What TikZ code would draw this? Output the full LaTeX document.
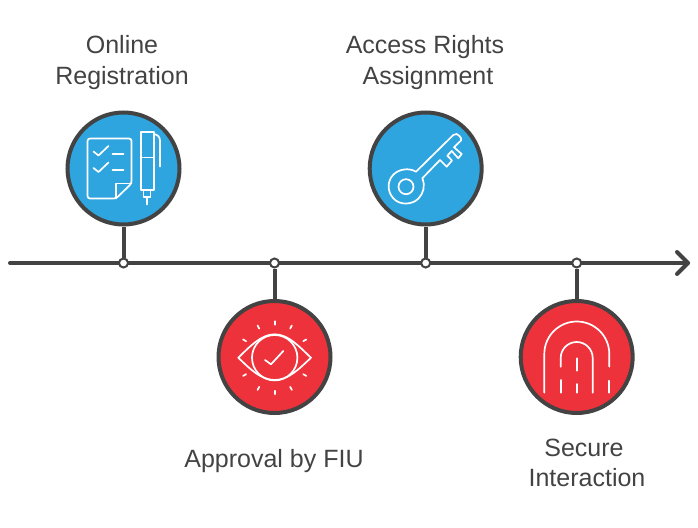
\documentclass[tikz,border=0pt]{standalone}
\usepackage{fontspec}
\usetikzlibrary{calc}
\setmainfont{Liberation Sans}
\definecolor{ink}{HTML}{434343}
\definecolor{bluefill}{HTML}{2FA5DF}
\definecolor{redfill}{HTML}{EE323B}
\tikzset{
  x=1pt,y=-1pt,
  badge/.style={circle,draw=ink,line width=4pt,minimum size=112pt,inner sep=0pt},
  junction/.style={circle,draw=ink,fill=white,line width=2pt,minimum size=9pt,inner sep=0pt},
  stem/.style={draw=ink,line width=4pt},
  axisline/.style={draw=ink,line width=4pt,line cap=round,line join=round},
  icon/.style={draw=white,line width=1.7pt,line join=round,line cap=round},
  caption/.style={text=ink,font=\fontsize{25}{30.5}\selectfont,align=center,inner sep=0pt}
}
\begin{document}
\begin{tikzpicture}
\useasboundingbox (0,0) rectangle (698,527);
\coordinate (start) at (10,263);
\coordinate (tip) at (688,263);
\coordinate (barbA) at (677,252);
\coordinate (barbB) at (677,274);
\draw[axisline] (start) -- (tip);
\draw[axisline] (barbA) -- (tip) -- (barbB);

\node[badge,fill=bluefill] (b1) at (123.5,168.5) {};
\node[badge,fill=redfill] (b2) at (274.5,357) {};
\node[badge,fill=bluefill] (b3) at (425.7,168.5) {};
\node[badge,fill=redfill] (b4) at (576.7,357) {};
\node[junction] (j1) at (123.5,263) {};
\node[junction] (j2) at (274.5,263) {};
\node[junction] (j3) at (425.7,263) {};
\node[junction] (j4) at (576.7,263) {};
\draw[stem] (b1) -- (j1);
\draw[stem] (b2) -- (j2);
\draw[stem] (b3) -- (j3);
\draw[stem] (b4) -- (j4);

\node[caption] (t1) at (122,62.5) {Online\\Registration};
\node[caption] (t3) at (425,62.5) {Access Rights\\\hspace*{6pt}Assignment};
\node[caption] (t2) at (274,461.5) {Approval by FIU};
\node[caption] (t4) at (587,463) {Secure\hspace*{6pt}\\Interaction};

% document and pen
\draw[icon,rounded corners=2.5pt] (87.5,138.5) -- (131.5,138.5) -- (131.5,183.5) -- (116,198.5) -- (87.5,198.5) -- cycle;
\draw[icon] (131.5,183.5) -- (116,183.5) -- (116,198.5);
\draw[icon] (93.5,151.5) -- (98.5,155.5) -- (108.5,146);
\draw[icon] (93.5,168) -- (98.5,172) -- (108.5,162.5);
\draw[icon] (112.5,154) -- (123.5,154);
\draw[icon] (112.5,170) -- (123.5,170);
\draw[icon] (140.7,131.7) rectangle (154,190);
\draw[icon] (140.7,157.5) -- (154,157.5);
\draw[icon] (143.5,190) rectangle (150.5,196.7);
\draw[icon] (147,196.7) -- (147,204.5);
\draw[icon] (154,134) .. controls (158,135) and (160,137) .. (160,141) -- (160,166.5);

% key
\draw[icon] (416,171.7) -- (453.3,135) .. controls (455.5,133) and (458,134) .. (459.5,136) .. controls (461,137.5) and (461.5,139) .. (461,140.5)
  -- (454,147.3) -- (461.7,154) -- (458.3,158.3) -- (451.7,151) -- (447.3,155.7) -- (452,160.5) -- (446.7,166.7) -- (440,160) -- (422.3,178.3)
  .. controls (425.5,186) and (423.5,193) .. (418.5,198.5) .. controls (412,205) and (400,205.5) .. (393.5,198.5) .. controls (387,191.5) and (387,181) .. (393.5,174.5) .. controls (399,169) and (409,167.5) .. (416,171.7) -- cycle;
\draw[icon] (406,186.7) circle[radius=7.5];

% eye
\draw[icon] (238.3,357.7) .. controls (250,346.5) and (261,334.3) .. (274.7,334.3) .. controls (288.4,334.3) and (299,346.5) .. (311,357.7)
  .. controls (299,369) and (288.4,380) .. (274.7,380) .. controls (261,380) and (250,369) .. (238.3,357.7) -- cycle;
\draw[icon] (274.7,357.7) circle[radius=22.7];
\draw[icon] (265,360) -- (271,364.3) -- (283.3,351);
\foreach \a in {90,62,30,-30,-62,-90,-118,-150,150,118}{
  \draw[icon] ($(274.7,357.7)+({33*cos(\a)},{-33*sin(\a)})$) -- ($(274.7,357.7)+({36.5*cos(\a)},{-36.5*sin(\a)})$);
}

% fingerprint
\draw[icon] (544.3,392.7) -- (544.3,354) arc[start angle=180,end angle=0,radius=32.5,y radius=-32.5] -- (609.3,366.7);
\draw[icon] (609.3,380.7) -- (609.3,392.7);
\draw[icon] (560.7,366.7) -- (560.7,358) arc[start angle=180,end angle=0,radius=16,y radius=-16] -- (592.7,392.7);
\draw[icon] (560.7,380) -- (560.7,392.7);
\draw[icon] (576.7,358.3) -- (576.7,370.7);
\draw[icon] (576.7,384) -- (576.7,392.7);
\end{tikzpicture}
\end{document}
